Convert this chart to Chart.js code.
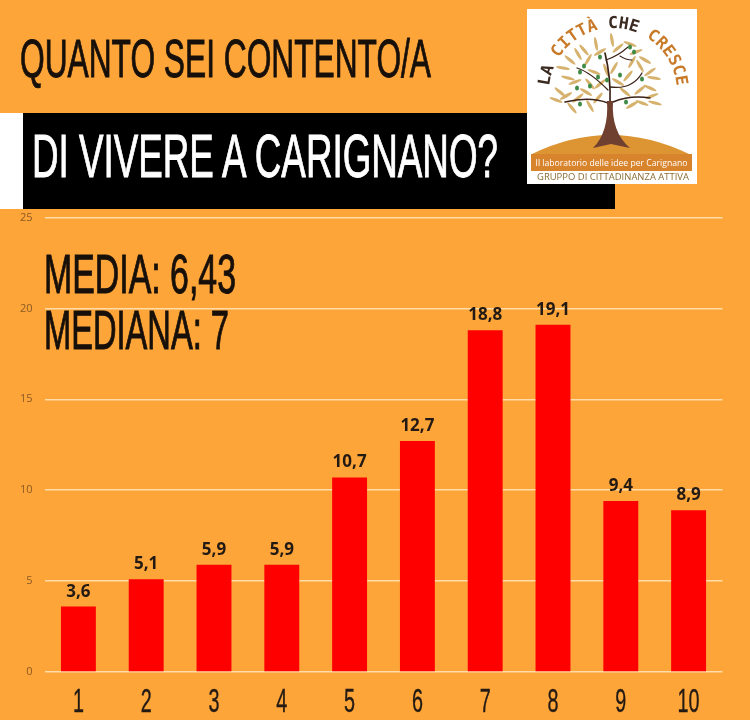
<!DOCTYPE html>
<html>
<head>
<meta charset="utf-8">
<title>Quanto sei contento/a di vivere a Carignano?</title>
<script src="https://cdn.jsdelivr.net/npm/chart.js@4"></script>
<style>
  html, body { margin: 0; padding: 0; background: #fea539; }
  #wrap { position: relative; width: 750px; height: 720px; overflow: hidden; }
  #chart { position: absolute; left: 0; top: 0; }
  #overlay { position: absolute; left: 0; top: 0; pointer-events: none; }
  .head { font-family: "Liberation Sans", sans-serif; stroke-width: 1; }
</style>
</head>
<body>
<div id="wrap">
  <canvas id="chart" width="750" height="720"></canvas>
  <svg id="overlay" width="750" height="720" viewBox="0 0 750 720">
    <text class="head" x="20" y="77" font-size="54" fill="#17100a" stroke="#17100a" textLength="411" lengthAdjust="spacingAndGlyphs">QUANTO SEI CONTENTO/A</text>
    <rect x="0" y="113" width="23" height="96" fill="#fff"/>
    <rect x="23" y="113" width="592" height="96" fill="#000"/>
    <text class="head" x="32" y="177" font-size="62" fill="#fff" stroke="#fff" textLength="466" lengthAdjust="spacingAndGlyphs">DI VIVERE A CARIGNANO?</text>
    <text class="head" x="44" y="293" font-size="55" fill="#17100a" stroke="#17100a" textLength="192" lengthAdjust="spacingAndGlyphs">MEDIA: 6,43</text>
    <text class="head" x="44" y="349" font-size="55" fill="#17100a" stroke="#17100a" textLength="185" lengthAdjust="spacingAndGlyphs">MEDIANA: 7</text>

    <!-- logo -->
    <rect x="527" y="9" width="170" height="175" fill="#fff"/>
    <defs><path id="arc" d="M 549 92 A 64 64 0 0 1 677 92"/></defs>
    <text font-family="'DejaVu Sans Mono', monospace" font-weight="bold" font-size="16.5" fill="#c87a28">
      <textPath href="#arc" startOffset="6"><tspan fill="#3a2a20">LA </tspan><tspan>CITTÀ </tspan><tspan fill="#3a2a20">CHE </tspan><tspan>CRESCE</tspan></textPath>
    </text>
    <path d="M 532 154 Q 610 116 689 154 Z" fill="#dd9433"/>
    <g id="leaves"></g>
    <g fill="none" stroke="#3c2218" stroke-linecap="round">
      <path stroke-width="1.5" d="M608 103 Q590 96 565 102"/>
      <path stroke-width="1.5" d="M613 102 Q630 95 650 98"/>
      <path stroke-width="1.7" d="M610 103 Q611 78 605 53"/>
      <path stroke-width="1.3" d="M610 87 Q632 90 642 73"/>
      <path stroke-width="1.3" d="M608 90 Q590 72 577 68"/>
      <path stroke-width="1.1" d="M606 60 Q618 56 628 47"/>
      <path stroke-width="1.1" d="M620 56 Q626 60 632 60"/>
    </g>
    <path d="M607 101 L613 101 Q611 132 630 148 L611 144 L593 148 Q609 132 607 101 Z" fill="#6f4030"/>
    <g id="olives"></g>
    <rect x="531" y="154" width="161" height="17" fill="#d8842c"/>
    <text x="611.5" y="165.5" text-anchor="middle" font-family="'Open Sans', sans-serif" font-size="9.2" fill="#fff" textLength="152" lengthAdjust="spacingAndGlyphs">Il laboratorio delle idee per Carignano</text>
    <text x="613" y="180" text-anchor="middle" font-family="'Open Sans', sans-serif" font-size="9.6" fill="#8b6b33" textLength="152" lengthAdjust="spacingAndGlyphs">GRUPPO DI CITTADINANZA ATTIVA</text>
  </svg>
</div>

<script>
const scores = ["1", "2", "3", "4", "5", "6", "7", "8", "9", "10"];
const percentages = [3.6, 5.1, 5.9, 5.9, 10.7, 12.7, 18.8, 19.1, 9.4, 8.9];
const yTicks = [0, 5, 10, 15, 20, 25];

// logo decoration: x, y, angle
const leafSpots = [
  [556,100,20],[566,96,-30],[572,108,50],[560,92,40],[578,98,-40],[590,106,60],[586,92,30],
  [598,98,-50],[632,105,-30],[642,103,20],[652,96,-20],[655,103,15],[625,92,40],[640,90,-40],
  [650,88,25],[575,82,-20],[568,78,15],[590,84,50],[600,84,-40],[618,82,30],[628,76,-50],
  [650,72,-35],[654,78,10],[640,66,60],[632,62,-60],[645,60,30],[570,60,40],[578,54,60],
  [563,68,10],[588,60,-60],[596,44,80],[600,52,-30],[612,40,80],[618,48,-40],[630,44,20],
  [636,52,-20],[584,50,50],[606,70,70],[614,68,-60],[594,72,20]
];
const oliveSpots = [
  [580,72],[590,86],[598,77],[577,88],[607,80],[620,75],[642,79],[580,104],[626,102],[634,52],[630,47],[600,57],[584,66]
];

const svgNs = "http://www.w3.org/2000/svg";
leafSpots.forEach(([x, y, a]) => {
  const e = document.createElementNS(svgNs, "ellipse");
  e.setAttribute("cx", x);
  e.setAttribute("cy", y);
  e.setAttribute("rx", 7);
  e.setAttribute("ry", 1.6);
  e.setAttribute("fill", "#d6b26e");
  e.setAttribute("transform", `rotate(${a} ${x} ${y})`);
  document.getElementById("leaves").appendChild(e);
});
oliveSpots.forEach(([x, y]) => {
  const e = document.createElementNS(svgNs, "ellipse");
  e.setAttribute("cx", x);
  e.setAttribute("cy", y);
  e.setAttribute("rx", 2);
  e.setAttribute("ry", 2.5);
  e.setAttribute("fill", "#3f8a45");
  document.getElementById("olives").appendChild(e);
});

const valueLabels = {
  id: "valueLabels",
  afterDatasetsDraw(chart) {
    const ctx = chart.ctx;
    ctx.save();
    ctx.font = 'bold 17px "Open Sans", sans-serif';
    ctx.fillStyle = "#231a14";
    ctx.textAlign = "center";
    ctx.textBaseline = "alphabetic";
    chart.getDatasetMeta(0).data.forEach((bar, i) => {
      ctx.fillText(String(percentages[i]).replace(".", ","), bar.x, bar.y - 10);
    });

    // condensed score labels under the bars
    const xScale = chart.scales.x;
    ctx.font = '33px "Liberation Sans", sans-serif';
    ctx.strokeStyle = "#231a14";
    ctx.lineWidth = 0.4;
    scores.forEach((score, i) => {
      ctx.save();
      ctx.translate(xScale.getPixelForTick(i), 712);
      ctx.scale(0.6, 1);
      ctx.fillText(score, 0, 0);
      ctx.strokeText(score, 0, 0);
      ctx.restore();
    });
    ctx.restore();
  },
};

new Chart(document.getElementById("chart"), {
  type: "bar",
  data: {
    labels: scores,
    datasets: [
      {
        data: percentages,
        backgroundColor: "#fe0000",
        barPercentage: 0.515,
        categoryPercentage: 1,
      },
    ],
  },
  options: {
    responsive: false,
    animation: false,
    layout: { padding: { top: 217.5, right: 27.5, left: 0, bottom: 0 } },
    plugins: { legend: { display: false }, tooltip: { enabled: false } },
    scales: {
      x: {
        grid: { display: false },
        border: { display: false },
        afterFit: (scale) => { scale.height = 48; },
        ticks: { display: false },
      },
      y: {
        min: 0,
        max: 25,
        afterFit: (scale) => { scale.width = 44.5; },
        afterBuildTicks: (scale) => { scale.ticks = yTicks.map((value) => ({ value })); },
        grid: { color: "#ffdca8", lineWidth: 1.5, drawTicks: false },
        border: { display: false },
        ticks: {
          color: "#8a5a24",
          padding: 12,
          font: { family: '"Open Sans", sans-serif', size: 11 },
        },
      },
    },
  },
  plugins: [valueLabels],
});
</script>
</body>
</html>
